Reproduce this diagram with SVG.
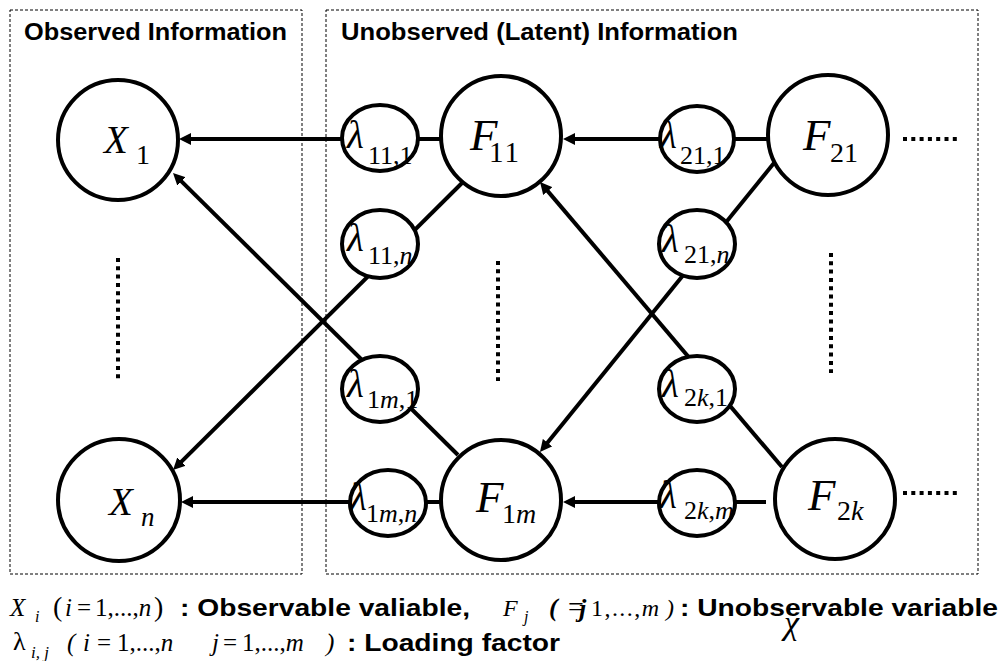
<svg xmlns="http://www.w3.org/2000/svg" width="1004" height="661" viewBox="0 0 1004 661">
  <style>
    .frame { fill: none; stroke: #000; stroke-width: 1; stroke-dasharray: 3 2; }
    .node { fill: #fff; stroke: #000; stroke-width: 4; }
    .edge { fill: none; stroke: #000; stroke-width: 4; }
    .dots { fill: none; stroke: #000; stroke-width: 4; stroke-dasharray: 4 4.3; }
    .head { font-family: "Liberation Sans", Arial, sans-serif; font-weight: bold; font-size: 23px; fill: #000; }
    .note { font-family: "Liberation Sans", Arial, sans-serif; font-weight: bold; font-size: 24px; fill: #000; }
    .math { font-family: "Liberation Serif", "Times New Roman", serif; fill: #000; }
    .it { font-style: italic; }
    .lam { font-size: 39px; font-style: italic; }
    .sub { font-size: 26px; }
  </style>
  <defs>
    <marker id="ah" markerUnits="userSpaceOnUse" markerWidth="12" markerHeight="12" refX="4" refY="6" orient="auto">
      <path d="M0,0 L12,6 L0,12 Z" fill="#000"/>
    </marker>
  </defs>
  <rect width="1004" height="661" fill="#fff"/>

  <!-- panels -->
  <g id="panels">
    <rect class="frame" x="10" y="10" width="292" height="564"/>
    <rect class="frame" x="326" y="10" width="652" height="564"/>
    <text class="head" x="24" y="40" textLength="263" lengthAdjust="spacingAndGlyphs">Observed Information</text>
    <text class="head" x="341" y="40" textLength="397" lengthAdjust="spacingAndGlyphs">Unobserved (Latent) Information</text>
  </g>

  <!-- connectors -->
  <g id="connectors">
    <line class="edge" x1="342" y1="139" x2="187" y2="139" marker-end="url(#ah)"/>
    <line class="edge" x1="417" y1="139" x2="441" y2="139"/>
    <line class="edge" x1="659" y1="139" x2="571" y2="139" marker-end="url(#ah)"/>
    <line class="edge" x1="734" y1="139" x2="768" y2="139"/>
    <line class="edge" x1="350" y1="502" x2="189" y2="502" marker-end="url(#ah)"/>
    <line class="edge" x1="426" y1="502" x2="440" y2="502"/>
    <line class="edge" x1="659" y1="502" x2="571" y2="502" marker-end="url(#ah)"/>
    <line class="edge" x1="735" y1="502" x2="766" y2="502"/>
    <line class="edge" x1="463" y1="182" x2="178.7" y2="464.4" marker-end="url(#ah)"/>
    <line class="edge" x1="458" y1="455" x2="178.7" y2="178.6" marker-end="url(#ah)"/>
    <line class="edge" x1="774" y1="163" x2="545" y2="445.8" marker-end="url(#ah)"/>
    <line class="edge" x1="782" y1="467" x2="545.2" y2="188.1" marker-end="url(#ah)"/>
  </g>

  <!-- continuation marks -->
  <g id="ellipsis-marks">
    <line class="dots" x1="118" y1="258" x2="118" y2="381"/>
    <line class="dots" x1="498" y1="261" x2="498" y2="381"/>
    <line class="dots" x1="831" y1="253" x2="831" y2="373"/>
    <line class="dots" x1="903" y1="139" x2="961" y2="139"/>
    <line class="dots" x1="903" y1="493" x2="961" y2="493"/>
  </g>

  <!-- observed variables -->
  <g id="X1">
    <circle class="node" cx="118" cy="140" r="60"/>
    <text class="math it" x="104" y="153" font-size="39">X</text>
    <text class="math" x="136" y="164" font-size="28">1</text>
  </g>
  <g id="Xn">
    <circle class="node" cx="119" cy="500" r="61"/>
    <text class="math it" x="109" y="515" font-size="39">X</text>
    <text class="math it" x="141" y="526" font-size="27">n</text>
  </g>

  <!-- latent factors -->
  <g id="F11">
    <circle class="node" cx="501" cy="136" r="60"/>
    <text class="math it" x="470" y="150" font-size="45">F</text>
    <text class="math" x="489" y="162" font-size="29" letter-spacing="2">11</text>
  </g>
  <g id="F21">
    <circle class="node" cx="828" cy="135" r="60"/>
    <text class="math it" x="803" y="150" font-size="45">F</text>
    <text class="math" x="830" y="162" font-size="28">21</text>
  </g>
  <g id="F1m">
    <circle class="node" cx="501" cy="500" r="60"/>
    <text class="math it" x="476" y="512" font-size="45">F</text>
    <text class="math" x="502" y="523" font-size="28">1<tspan class="it">m</tspan></text>
  </g>
  <g id="F2k">
    <circle class="node" cx="835" cy="499" r="60"/>
    <text class="math it" x="808" y="510" font-size="45">F</text>
    <text class="math" x="837" y="520" font-size="28">2<tspan class="it">k</tspan></text>
  </g>

  <!-- loadings -->
  <g id="L11-1">
    <ellipse class="node" cx="380" cy="138" rx="38" ry="33"/>
    <text class="math lam" x="347" y="148">λ</text>
    <text class="math sub" x="368" y="164">11,1</text>
  </g>
  <g id="L11-n">
    <ellipse class="node" cx="380" cy="244" rx="38" ry="34"/>
    <text class="math lam" x="347" y="251">λ</text>
    <text class="math sub" x="368" y="264">11,<tspan class="it">n</tspan></text>
  </g>
  <g id="L1m-1">
    <ellipse class="node" cx="380" cy="389" rx="38" ry="33"/>
    <text class="math lam" x="347" y="397">λ</text>
    <text class="math sub" x="367" y="408">1<tspan class="it">m</tspan>,1</text>
  </g>
  <g id="L1m-n">
    <ellipse class="node" cx="388" cy="503" rx="38" ry="33"/>
    <text class="math lam" x="350" y="510">λ</text>
    <text class="math sub" x="366" y="522">1<tspan class="it">m</tspan>,<tspan class="it">n</tspan></text>
  </g>
  <g id="L21-1">
    <ellipse class="node" cx="697" cy="139" rx="37" ry="33"/>
    <text class="math lam" x="660" y="148">λ</text>
    <text class="math sub" x="680" y="164">21,1</text>
  </g>
  <g id="L21-n">
    <ellipse class="node" cx="697" cy="244" rx="38" ry="34"/>
    <text class="math lam" x="662" y="252">λ</text>
    <text class="math sub" x="684" y="263">21,<tspan class="it">n</tspan></text>
  </g>
  <g id="L2k-1">
    <ellipse class="node" cx="697" cy="389" rx="38" ry="33"/>
    <text class="math lam" x="662" y="397">λ</text>
    <text class="math sub" x="684" y="406">2<tspan class="it">k</tspan>,1</text>
  </g>
  <g id="L2k-m">
    <ellipse class="node" cx="697" cy="503" rx="38" ry="33"/>
    <text class="math lam" x="660" y="508">λ</text>
    <text class="math sub" x="684" y="519">2<tspan class="it">k</tspan>,<tspan class="it">m</tspan></text>
  </g>

  <!-- legend -->
  <g id="legend">
    <text class="math it" x="10" y="616" font-size="25">X</text>
    <text class="math it" x="35" y="622" font-size="16">i</text>
    <text class="math" y="616" font-size="25"><tspan x="53" font-size="28">(</tspan><tspan class="it" x="65">i</tspan><tspan x="77">=</tspan><tspan x="95">1,...,</tspan><tspan class="it">n</tspan><tspan x="154" font-size="28">)</tspan></text>
    <text class="note" x="180" y="616" textLength="290" lengthAdjust="spacingAndGlyphs">: Observable valiable,</text>
    <text class="math it" x="503" y="616" font-size="24">F</text>
    <text class="math it" x="524" y="622" font-size="16">j</text>
    <text class="math it" x="549" y="616" font-size="26" font-weight="bold">(</text>
    <text class="math" x="568" y="616" font-size="28">=</text>
    <text class="math it" x="579" y="617" font-size="26" font-weight="bold">j</text>
    <text class="math" x="591" y="616" font-size="24" textLength="68" lengthAdjust="spacing">1,...,<tspan class="it">m</tspan></text>
    <text class="math it" x="666" y="616" font-size="24">)</text>
    <text class="note" x="680" y="616" textLength="318" lengthAdjust="spacingAndGlyphs">: Unobservable variable</text>
    <text class="math it" x="784" y="634" font-size="34">χ</text>

    <text class="math" x="13" y="650" font-size="26">λ</text>
    <text class="math it" x="31" y="658" font-size="17">i, j</text>
    <text class="math" y="651" font-size="25"><tspan class="it" x="67">(</tspan><tspan class="it" x="83">i</tspan><tspan x="97">=</tspan><tspan x="117">1,...,</tspan><tspan class="it">n</tspan><tspan class="it" x="212">j</tspan><tspan x="223">=</tspan><tspan x="242">1,...,</tspan><tspan class="it">m</tspan><tspan class="it" x="326">)</tspan></text>
    <text class="note" x="347" y="651" textLength="213" lengthAdjust="spacingAndGlyphs">: Loading factor</text>
  </g>
</svg>
